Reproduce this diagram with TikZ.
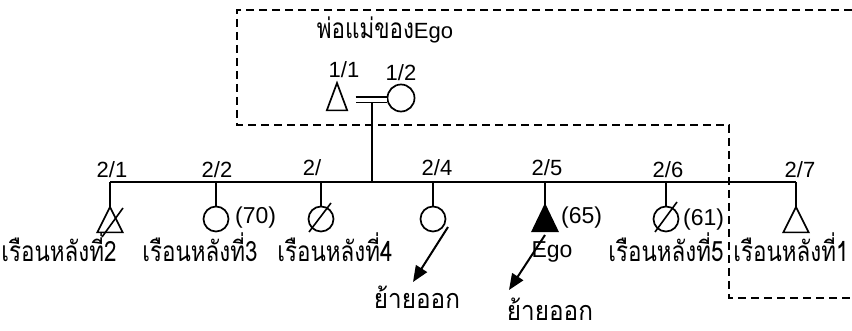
\documentclass[tikz,border=0pt]{standalone}
\usepackage{fontspec}
\setmainfont{Liberation Sans}
\newfontfamily\thai[Script=Thai, FakeStretch=0.8]{Loma}
\newfontfamily\thaiw[Script=Thai, FakeStretch=0.9]{Loma}
\usetikzlibrary{arrows.meta,calc}
\begin{document}
\begin{tikzpicture}[x=1pt,y=-1pt,
  lbl/.style={inner sep=0pt, font=\fontsize{22}{26}\selectfont},
  tlbl/.style={inner sep=0pt, font=\fontsize{28}{32}\selectfont\thai},
  tribox/.style={inner sep=0pt, minimum width=25pt, minimum height=25pt, anchor=north},
  circ/.style={draw, line width=1.7pt, circle, minimum size=25pt, inner sep=0pt},
  sym/.style={line width=1.7pt, line join=miter},
  ln/.style={line width=2pt},
  strike/.style={line width=1.6pt},
  arr/.style={line width=2pt, -{Triangle[length=16pt,width=13pt]}},
  dsh/.style={line width=1.5pt, dash pattern=on 8pt off 5pt}]
\useasboundingbox[fill=white] (0,0) rectangle (852,331);

% dashed frame
\draw[dsh] (852,10) -- (237,10) -- (237,125) -- (729,125) -- (729,298) -- (852,298);

% parents
\node[tlbl] (ptitle) at (385,30) {พ่อแม่ของ{\fontsize{22}{26}\rmfamily Ego}};
\node[tribox, minimum width=20pt, minimum height=27pt] (p1) at (337,83) {};
\draw[sym] (p1.south west) -- (p1.north) -- (p1.south east) -- cycle;
\node[circ, minimum size=27pt] (p2) at (401,98) {};
\node[lbl] (lp1) at (344,70) {1/1};
\node[lbl] (lp2) at (401,73) {1/2};
\coordinate (mar) at ($(p2.west)+(-15,2)$);
\draw[line width=1.5pt, double, double distance=4pt] ($(p2.west)+(-31,2)$) -- ($(p2.west)+(0,2)$);

% sibling bar
\coordinate (barL) at (110,182);
\coordinate (barR) at (796,182);
\draw[ln] (barL) -- (barR);
\draw[ln] ($(mar)+(0,3)$) -- (mar |- barL);

% children
\node[tribox] (s1) at (110,207) {};
\node[circ] (s2) at (216,219) {};
\node[circ] (s3) at (321,219) {};
\node[circ] (s4) at (433,219) {};
\node[tribox, minimum height=26pt] (s5) at (545,205) {};
\node[circ] (s6) at (666,219) {};
\node[tribox] (s7) at (796,207) {};
\draw[sym] (s1.south west) -- (s1.north) -- (s1.south east) -- cycle;
\draw[sym, fill=black] (s5.south west) -- (s5.north) -- (s5.south east) -- cycle;
\draw[sym] (s7.south west) -- (s7.north) -- (s7.south east) -- cycle;
\foreach \s in {s1,s2,s3,s4,s5,s6,s7} \draw[ln] (\s.north |- barL) -- (\s.north);

% strikes
\draw[strike] ($(s1.north)+(-8,30)$) -- ($(s1.north)+(13,1)$);
\draw[strike] ($(s3.center)+(-12,13)$) -- ($(s3.center)+(10,-16)$);
\draw[strike] ($(s6.center)+(-11,13)$) -- ($(s6.center)+(11,-17)$);

% generation labels
\node[lbl] (l1) at (112,170) {2/1};
\node[lbl] (l2) at (217,170) {2/2};
\node[lbl] (l3) at (312,168) {2/};
\node[lbl] (l4) at (437,168) {2/4};
\node[lbl] (l5) at (547,168) {2/5};
\node[lbl] (l6) at (668,170) {2/6};
\node[lbl] (l7) at (800,170) {2/7};

% ages
\node[lbl, anchor=west, font=\fontsize{23}{26}\selectfont] (a2) at (235,218) {(70)};
\node[lbl, anchor=west, font=\fontsize{23}{26}\selectfont] (a5) at (561,218) {(65)};
\node[lbl, anchor=west, font=\fontsize{23}{26}\selectfont] (a6) at (683,220) {(61)};

% house names
\node[tlbl] (n2) at (59,247) {เรือนหลังที่2};
\node[tlbl] (n3) at (200,247) {เรือนหลังที่3};
\node[tlbl] (n4) at (335,247) {เรือนหลังที่4};
\node[tlbl] (n5) at (666,247) {เรือนหลังที่5};
\node[tlbl] (n1) at (791,247) {เรือนหลังที่1};
\node[lbl, font=\fontsize{23}{26}\selectfont] (ego) at (552,252) {Ego};

% moved out
\node[tlbl, font=\fontsize{27}{30}\selectfont\thaiw] (m1) at (417,297) {ย้ายออก};
\node[tlbl, font=\fontsize{27}{30}\selectfont\thaiw] (m2) at (550,309) {ย้ายออก};
\coordinate (a1s) at (448,227);
\coordinate (a1e) at (413,282);
\coordinate (a2s) at (545,235);
\coordinate (a2e) at (509,290);
\draw[arr] (a1s) -- (a1e);
\draw[arr] (a2s) -- (a2e);
\end{tikzpicture}
\end{document}
